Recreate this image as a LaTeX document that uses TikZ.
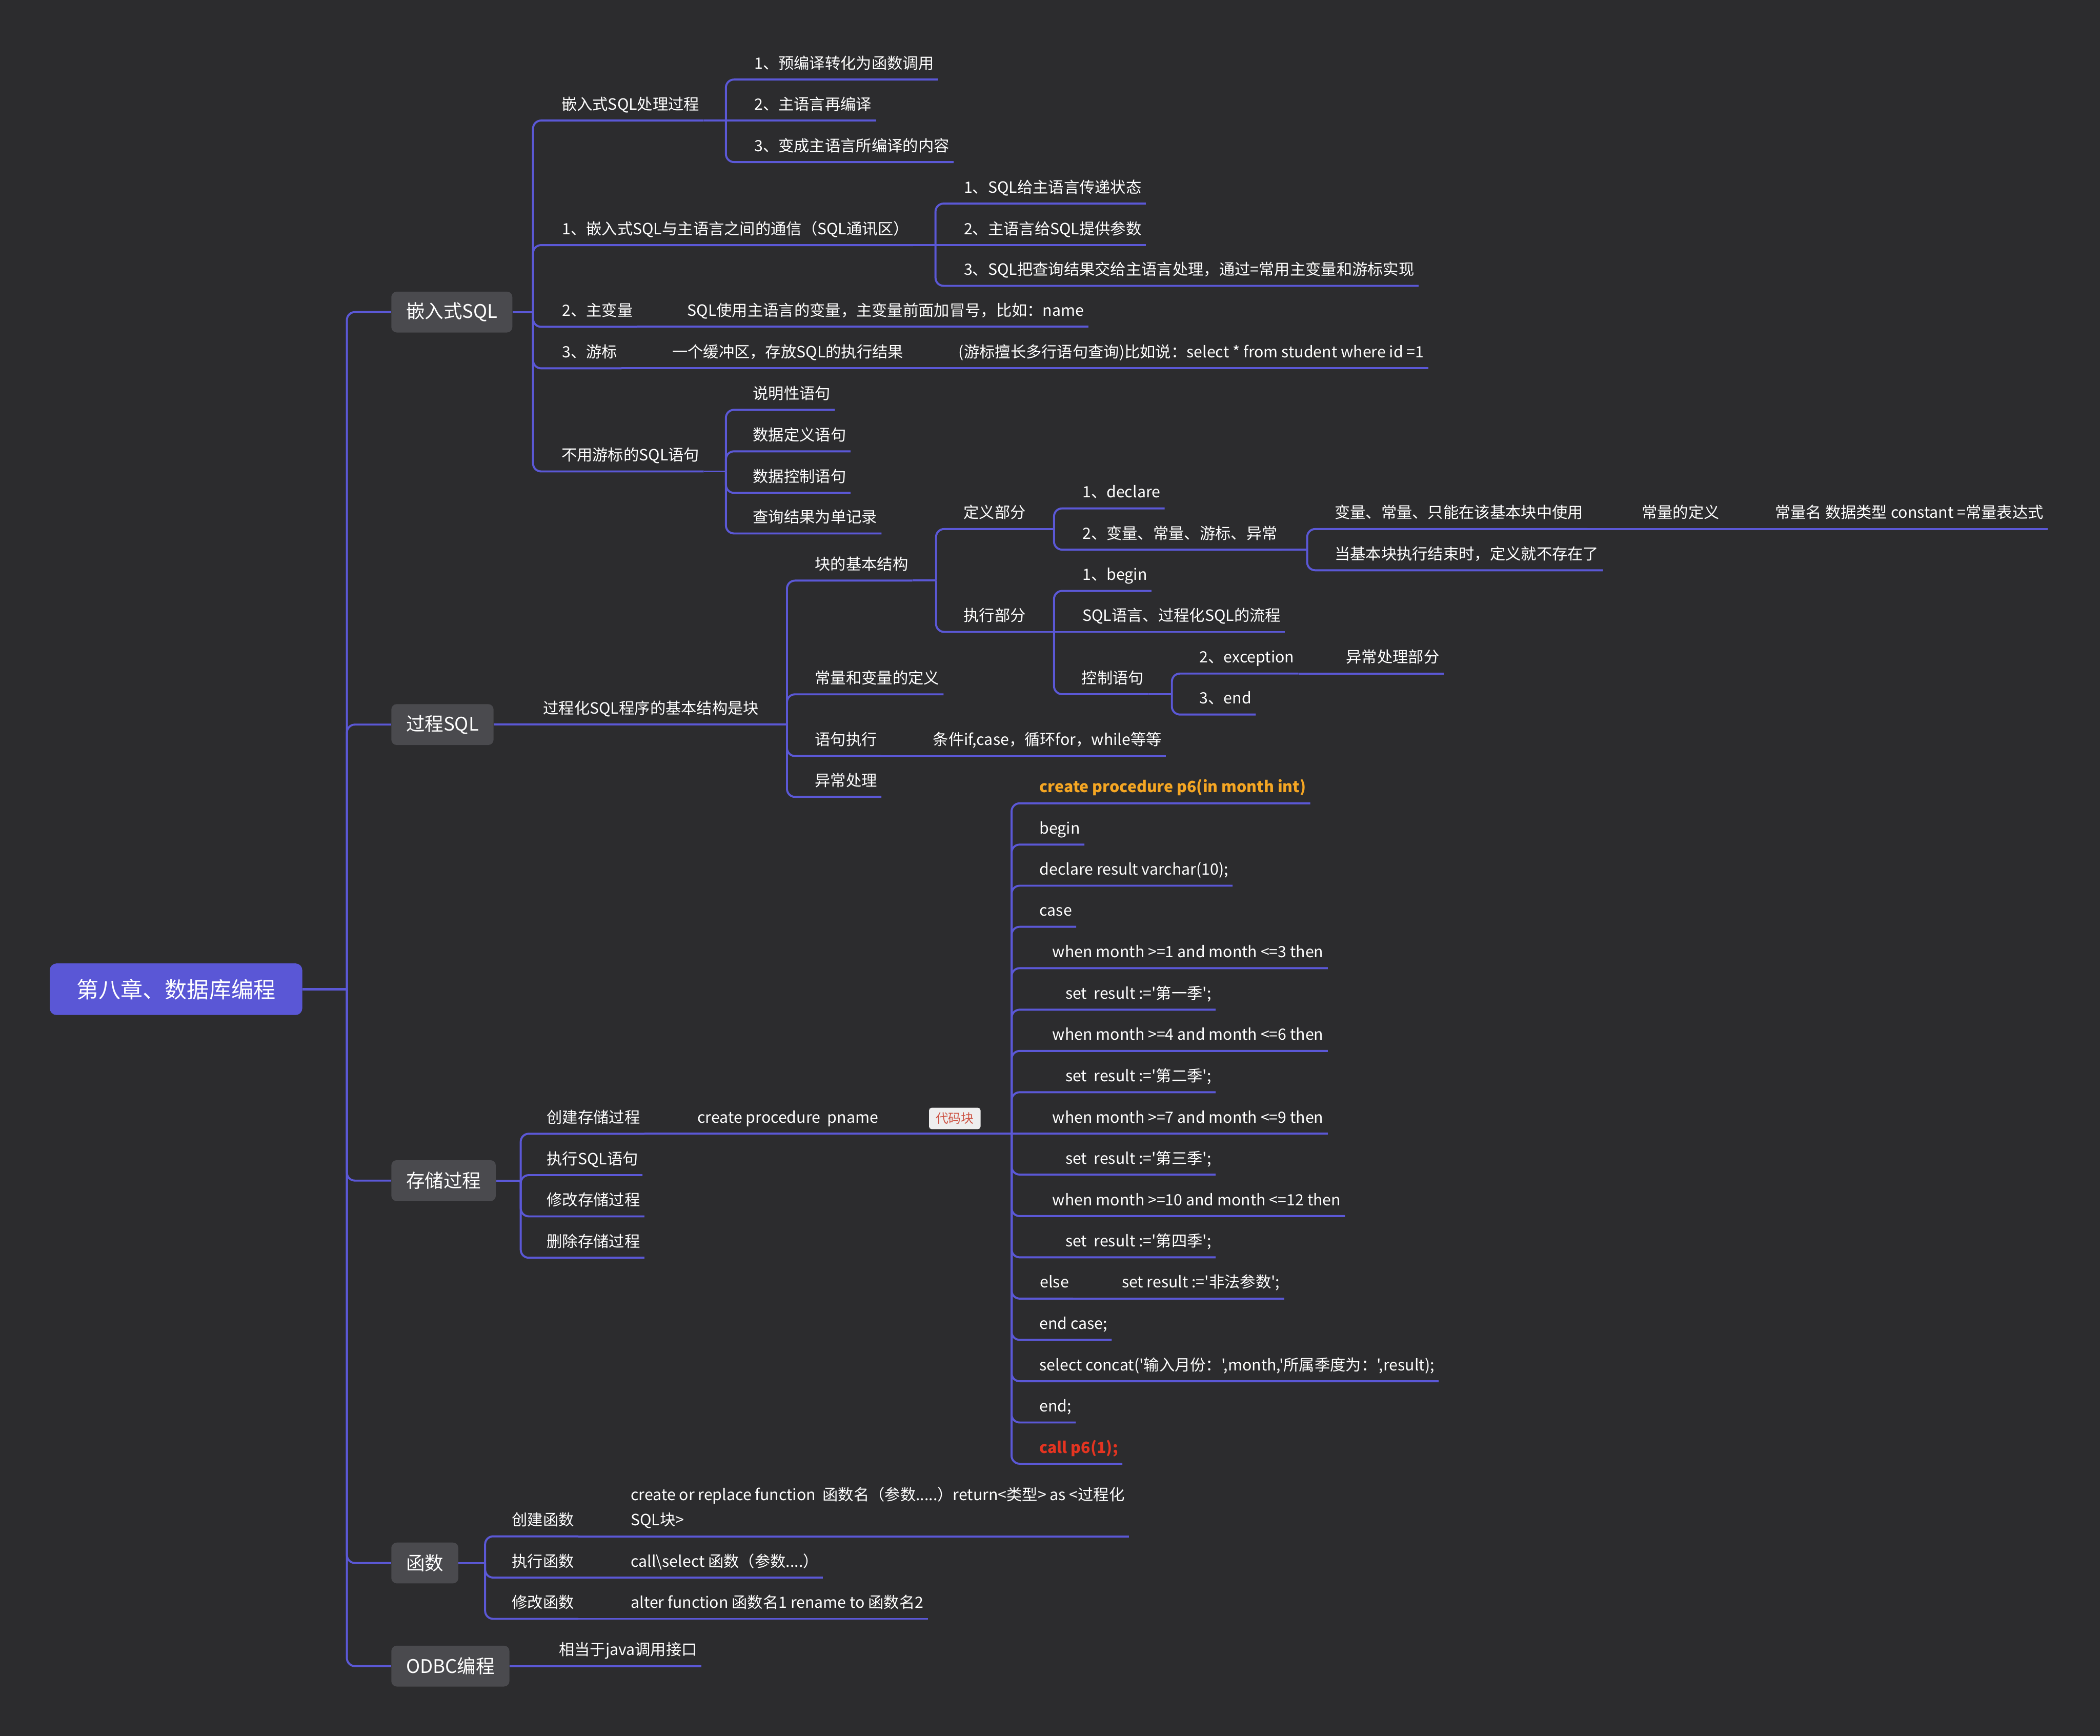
\documentclass[tikz,border=0pt]{standalone}
\usepackage{fontspec}
\setmainfont{Noto Sans CJK SC}[Ligatures=TeXOff]
\usepackage{xcolor}
\definecolor{bgc}{RGB}{44,44,46}
\definecolor{linkc}{RGB}{91,88,214}
\definecolor{rootc}{RGB}{90,87,214}
\definecolor{boxc}{RGB}{74,74,78}
\definecolor{codeorange}{RGB}{245,166,35}
\definecolor{codered}{RGB}{228,52,33}
\definecolor{tagc}{RGB}{238,238,238}
\definecolor{tagtext}{RGB}{205,85,70}
\newcommand{\mapfont}{\fontsize{11.6}{14}\selectfont}

\begin{document}
\begin{tikzpicture}[
        x=1pt, y=-1pt,
        link/.style={draw=linkc, line width=1.5pt, rounded corners=6pt},
        leaf/.style={anchor=south west, inner xsep=3pt, inner ysep=0pt, text height=9.5pt, text depth=7.8pt, text=white, font=\mapfont},
        topic/.style={anchor=west, fill=boxc, rounded corners=4pt, text=white, font=\fontsize{14}{16}\selectfont, inner xsep=11pt, minimum height=30.5pt},
        central/.style={anchor=west, fill=rootc, rounded corners=5pt, text=white, font=\fontsize{16.5}{20}\selectfont, inner xsep=20pt, minimum height=38.5pt},
        tagbox/.style={fill=tagc, rounded corners=2pt, text=tagtext, font=\fontsize{9.5}{11}\selectfont, inner xsep=5pt, inner ysep=0pt, minimum height=16pt},
    ]
        % Background
        \fill[bgc] (0,0) rectangle (1568,1296);

        % Root and main topics
        \node[central] (root) at (37, 738.6) {第八章、数据库编程};
        \node[topic] (emb) at (292, 233) {嵌入式SQL};
        \node[topic] (proc) at (292, 541) {过程SQL};
        \node[topic] (stor) at (292, 881.5) {存储过程};
        \node[topic] (func) at (292, 1167) {函数};
        \node[topic] (odbc) at (292, 1244) {ODBC编程};

        \coordinate (rootj) at (259, 738.6);
        \draw[link, line width=2pt] (root.east) -- (rootj);
        \foreach \b in {emb, proc, stor, func, odbc}
            \draw[link] (rootj) |- (\b.west);

        % Embedded SQL
        \node[leaf] (e1) at (416, 90) {嵌入式SQL处理过程};
        \node[leaf] (e2) at (416.5, 183) {1、嵌入式SQL与主语言之间的通信（SQL通讯区）};
        \node[leaf] (e3) at (416.5, 244) {2、主变量};
        \node[leaf] (e31) at (510, 244) {SQL使用主语言的变量，主变量前面加冒号，比如：name};
        \node[leaf] (e4) at (416.5, 275) {3、游标};
        \node[leaf] (e41) at (498.7, 275) {一个缓冲区，存放SQL的执行结果};
        \node[leaf] (e42) at (712.6, 275) {(游标擅长多行语句查询)比如说：select * from student where id =1};
        \node[leaf] (e5) at (416, 352) {不用游标的SQL语句};

        \node[leaf] (e11) at (560, 59.4) {1、预编译转化为函数调用};
        \node[leaf] (e12) at (560, 90) {2、主语言再编译};
        \node[leaf] (e13) at (560, 121) {3、变成主语言所编译的内容};

        \node[leaf] (e21) at (716.5, 152) {1、SQL给主语言传递状态};
        \node[leaf] (e22) at (716.5, 183) {2、主语言给SQL提供参数};
        \node[leaf] (e23) at (716.5, 213.4) {3、SQL把查询结果交给主语言处理，通过=常用主变量和游标实现};

        \node[leaf] (e51) at (559, 306) {说明性语句};
        \node[leaf] (e52) at (559, 337) {数据定义语句};
        \node[leaf] (e53) at (559, 368) {数据控制语句};
        \node[leaf] (e54) at (559, 398.3) {查询结果为单记录};

        \coordinate (embj) at (398, 233);
        \coordinate (e1j) at (542, 90);
        \coordinate (e2j) at (698.5, 183);
        \coordinate (e5j) at (542, 352);

        \draw[link] (emb.east) -- (embj);
        \foreach \c in {e1, e2, e3, e4, e5}
            \draw[link] (embj) |- (\c.south east);
        \draw[link] (e1.south east) -- (e1j);
        \foreach \c in {e11, e13}
            \draw[link] (e1j) |- (\c.south east);
        \draw[link] (e1j) -- (e12.south east);
        \draw[link] (e2.south east) -- (e2j);
        \foreach \c in {e21, e23}
            \draw[link] (e2j) |- (\c.south east);
        \draw[link] (e2j) -- (e22.south east);
        \draw[link] (e3.south east) -- (e31.south east);
        \draw[link] (e4.south east) -- (e41.south east);
        \draw[link] (e41.south east) -- (e42.south east);
        \draw[link] (e5.south east) -- (e5j);
        \foreach \c in {e51, e52, e53, e54}
            \draw[link] (e5j) |- (\c.south east);

        % Procedural SQL
        \node[leaf] (p0) at (402.4, 541) {过程化SQL程序的基本结构是块};
        \node[leaf] (p1) at (605.3, 433.5) {块的基本结构};
        \node[leaf] (p2) at (605.3, 518.4) {常量和变量的定义};
        \node[leaf] (p3) at (605.3, 564.5) {语句执行};
        \node[leaf] (p31) at (693.4, 564.5) {条件if,case，循环for，while等等};
        \node[leaf] (p4) at (605.3, 595) {异常处理};

        \node[leaf] (p11) at (716.3, 395) {定义部分};
        \node[leaf] (p12) at (716.3, 471.8) {执行部分};
        \node[leaf] (d1) at (805, 379.6) {1、declare};
        \node[leaf] (d2) at (805, 410.4) {2、变量、常量、游标、异常};
        \node[leaf] (v1) at (993.3, 395) {变量、常量、只能在该基本块中使用};
        \node[leaf] (v2) at (1222.6, 395) {常量的定义};
        \node[leaf] (v3) at (1322.2, 395) {常量名 数据类型 constant =常量表达式};
        \node[leaf] (v4) at (993.3, 425.8) {当基本块执行结束时，定义就不存在了};
        \node[leaf] (x1) at (805, 441.2) {1、begin};
        \node[leaf] (x2) at (805, 471.8) {SQL语言、过程化SQL的流程};
        \node[leaf] (x3) at (804.5, 518.3) {控制语句};
        \node[leaf] (k1) at (892.5, 502.9) {2、exception};
        \node[leaf] (k2) at (1001.9, 502.9) {异常处理部分};
        \node[leaf] (k3) at (892.5, 533.5) {3、end};

        \coordinate (p0j) at (587.6, 541);
        \coordinate (p1j) at (698.9, 433.5);
        \coordinate (p11j) at (787, 395);
        \coordinate (d2j) at (976, 410.4);
        \coordinate (p12j) at (787, 471.8);
        \coordinate (x3j) at (875, 518.3);

        \draw[link] (proc.east) -- (p0.south east);
        \draw[link] (p0.south east) -- (p0j);
        \foreach \c in {p1, p2, p3, p4}
            \draw[link] (p0j) |- (\c.south east);
        \draw[link] (p3.south east) -- (p31.south east);
        \draw[link] (p1.south east) -- (p1j);
        \foreach \c in {p11, p12}
            \draw[link] (p1j) |- (\c.south east);
        \draw[link] (p11.south east) -- (p11j);
        \foreach \c in {d1, d2}
            \draw[link] (p11j) |- (\c.south east);
        \draw[link] (d2.south east) -- (d2j);
        \foreach \c in {v1, v4}
            \draw[link] (d2j) |- (\c.south east);
        \draw[link] (v1.south east) -- (v3.south east);
        \draw[link] (p12.south east) -- (p12j);
        \foreach \c in {x1, x3}
            \draw[link] (p12j) |- (\c.south east);
        \draw[link] (p12j) -- (x2.south east);
        \draw[link] (x3.south east) -- (x3j);
        \foreach \c in {k1, k3}
            \draw[link] (x3j) |- (\c.south east);
        \draw[link] (k1.south east) -- (k2.south east);

        % Stored procedures
        \node[leaf] (s1) at (405.1, 846.5) {创建存储过程};
        \node[leaf] (s11) at (517.6, 846.5) {create procedure~~pname};
        \node[tagbox] (tag) at (712.9, 835.1) {代码块};
        \node[leaf] (s2) at (405.1, 877.4) {执行SQL语句};
        \node[leaf] (s3) at (405.1, 908.2) {修改存储过程};
        \node[leaf] (s4) at (405.1, 939.1) {删除存储过程};

        \node[leaf, text=codeorange, font=\mapfont\bfseries] (c1) at (773, 599.8) {create procedure p6(in month int)};
        \node[leaf] (c2) at (773, 630.6) {begin};
        \node[leaf] (c3) at (773, 661.3) {declare result varchar(10);};
        \node[leaf] (c4) at (773, 692) {case};
        \node[leaf] (c5) at (782.7, 722.9) {when month >=1 and month <=3 then};
        \node[leaf] (c6) at (792.3, 753.9) {set~~result :='第一季';};
        \node[leaf] (c7) at (782.7, 784.7) {when month >=4 and month <=6 then};
        \node[leaf] (c8) at (792.3, 815.5) {set~~result :='第二季';};
        \node[leaf] (c9) at (782.7, 846.5) {when month >=7 and month <=9 then};
        \node[leaf] (c10) at (792.3, 877) {set~~result :='第三季';};
        \node[leaf] (c11) at (782.7, 908) {when month >=10 and month <=12 then};
        \node[leaf] (c12) at (792.3, 938.8) {set~~result :='第四季';};
        \node[leaf] (c13) at (773.3, 969.6) {else};
        \node[leaf] (c13b) at (834.4, 969.6) {set result :='非法参数';};
        \node[leaf] (c14) at (773, 1000.4) {end case;};
        \node[leaf] (c15) at (773, 1031.3) {select concat('输入月份：',month,'所属季度为：',result);};
        \node[leaf] (c16) at (773, 1062.1) {end;};
        \node[leaf, text=codered, font=\mapfont\bfseries] (c17) at (773, 1092.9) {call p6(1);};

        \coordinate (storj) at (388.8, 881.5);
        \coordinate (codej) at (755.3, 846.5);

        \draw[link] (stor.east) -- (storj);
        \foreach \c in {s1, s2, s3, s4}
            \draw[link] (storj) |- (\c.south east);
        \draw[link] (s1.south east) -- (codej);
        \foreach \c in {c1, c2, c3, c4, c5, c6, c7, c8, c10, c11, c12, c13, c14, c15, c16, c17}
            \draw[link] (codej) |- (\c.south east);
        \draw[link] (codej) -- (c9.south east);
        \draw[link] (c13.south east) -- (c13b.south east);

        % Functions
        \node[leaf] (f1) at (379.1, 1147.1) {创建函数};
        \node[leaf, font=\fontsize{11.6}{19}\selectfont] (f11) at (467.8, 1147.1) {\begin{tabular}[b]{@{}l@{}}create or replace function~~函数名（参数.....）return<类型> as <过程化\\SQL块>\end{tabular}};
        \node[leaf] (f2) at (379.1, 1177.9) {执行函数};
        \node[leaf] (f21) at (467.8, 1177.9) {call\textbackslash select 函数（参数....）};
        \node[leaf] (f3) at (379.1, 1208.7) {修改函数};
        \node[leaf] (f31) at (467.8, 1208.7) {alter function 函数名1 rename to 函数名2};

        \coordinate (funcj) at (362.2, 1167);
        \draw[link] (func.east) -- (funcj);
        \foreach \c in {f1, f2, f3}
            \draw[link] (funcj) |- (\c.south east);
        \foreach \a/\b in {f1/f11, f2/f21, f3/f31}
            \draw[link] (\a.south east) -- (\b.south east);

        % ODBC
        \node[leaf] (o1) at (414.1, 1244) {相当于java调用接口};
        \draw[link] (odbc.east) -- (o1.south east);
    \end{tikzpicture}
\end{document}
